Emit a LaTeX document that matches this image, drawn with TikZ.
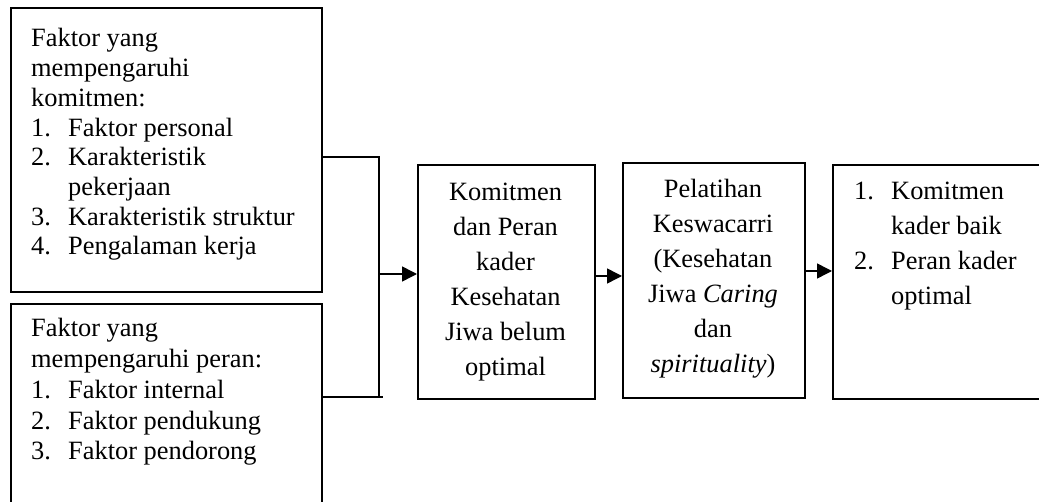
\documentclass[tikz,border=0pt]{standalone}
\usepackage{fontspec}
\setmainfont{Liberation Serif}
\usetikzlibrary{arrows.meta}
\newcommand{\itm}[2]{\makebox[37pt][l]{#1}#2}
\begin{document}
\begin{tikzpicture}[x=1pt,y=-1pt,
  box/.style={draw, line width=1.8pt, inner sep=0pt, anchor=north west},
  txt/.style={inner sep=0pt, anchor=base west},
  fa/.style={font=\fontsize{26.4}{29.7}\selectfont},
  fb/.style={font=\fontsize{26.4}{30.7}\selectfont},
  fc/.style={font=\fontsize{26.4}{34.9}\selectfont},
  conn/.style={line width=1.5pt},
  arr/.style={conn, -{Triangle[length=15pt,width=15pt]}}]
\clip (0,0) rectangle (1039,502);
% boxes
\node[box, minimum width=311pt, minimum height=284pt] (b1) at (10,7) {};
\node[box, minimum width=311pt, minimum height=217pt] (b2) at (10,303) {};
\node[box, minimum width=177pt, minimum height=234pt] (b3) at (417,164) {};
\node[box, minimum width=182pt, minimum height=235pt] (b4) at (622,162) {};
\node[box, minimum width=218pt, minimum height=234pt] (b5) at (832,164) {};
% texts
\node[txt, fa] (t1) at (31,47) {\parbox[t]{290pt}{\raggedright
Faktor yang\\
mempengaruhi\\
komitmen:\\
\itm{1.}{Faktor personal}\\
\itm{2.}{Karakteristik}\\
\itm{}{pekerjaan}\\
\itm{3.}{Karakteristik struktur}\\
\itm{4.}{Pengalaman kerja}}};
\node[txt, fb] (t2) at (31,337) {\parbox[t]{290pt}{\raggedright
Faktor yang\\
mempengaruhi peran:\\
\itm{1.}{Faktor internal}\\
\itm{2.}{Faktor pendukung}\\
\itm{3.}{Faktor pendorong}}};
\node[txt, fc, anchor=base] (t3) at (505.5,200.7) {\parbox[t]{170pt}{\centering
Komitmen\\
dan Peran\\
kader\\
Kesehatan\\
Jiwa belum\\
optimal}};
\node[txt, fc, anchor=base] (t4) at (713,198) {\parbox[t]{178pt}{\centering
Pelatihan\\
Keswacarri\\
(Kesehatan\\
Jiwa \textit{Caring}\\
dan\\
\textit{spirituality})}};
\node[txt, fc] (t5) at (854,200) {\parbox[t]{180pt}{\raggedright
\itm{1.}{Komitmen}\\
\itm{}{kader baik}\\
\itm{2.}{Peran kader}\\
\itm{}{optimal}}};
% connectors
\coordinate (jt) at (379,157);
\coordinate (jb) at (379,397);
\coordinate (jm) at (379,274);
\coordinate (jbe) at (383,397);
\coordinate (a2) at (0,276);
\coordinate (a3) at (0,271);
\draw[conn] (b1.east |- jt) -- (jt) -- (jb);
\draw[conn] (b2.east |- jb) -- (jbe);
\draw[arr] (jm) -- (jm -| b3.west);
\draw[arr] (a2 -| b3.east) -- (a2 -| b4.west);
\draw[arr] (a3 -| b4.east) -- (a3 -| b5.west);
\end{tikzpicture}
\end{document}
